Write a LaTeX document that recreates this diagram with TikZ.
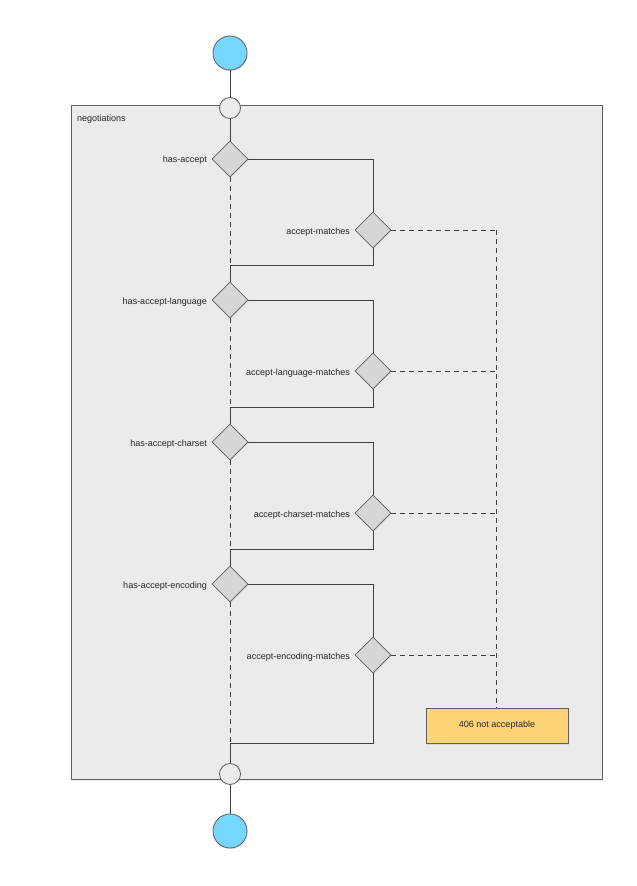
\documentclass[tikz,border=0pt]{standalone}
\usepackage{fontspec}
\setmainfont{Liberation Sans}
\usetikzlibrary{shapes.geometric,shadows}
\definecolor{edge}{HTML}{5E5E5E}
\definecolor{groupfill}{HTML}{EBEBEB}
\definecolor{decfill}{HTML}{D6D6D6}
\definecolor{termfill}{HTML}{76D6FF}
\definecolor{errfill}{HTML}{FFD479}
\tikzset{
  x=1pt, y=-1pt,
  every node/.style={font=\fontsize{9}{11}\selectfont, text=black!85},
  conn/.style={draw=black!75, line width=0.8pt},
  dashconn/.style={conn, dash pattern=on 5pt off 4pt},
  terminal/.style={circle, draw=edge, line width=0.8pt, fill=termfill, minimum size=34pt, inner sep=0pt,
    drop shadow={opacity=0.2, shadow xshift=0.6pt, shadow yshift=-1.2pt}},
  junction/.style={circle, draw=edge, line width=0.8pt, fill=groupfill, minimum size=21pt, inner sep=0pt},
  decision/.style={diamond, draw=edge, line width=0.8pt, fill=decfill, minimum width=36pt, minimum height=36pt, inner sep=0pt,
    drop shadow={opacity=0.2, shadow xshift=0.6pt, shadow yshift=-1.2pt}},
  declabel/.style={anchor=east, inner sep=0pt},
  groupbox/.style={rectangle, draw=edge, line width=0.8pt, fill=groupfill, anchor=north west, inner sep=0pt,
    drop shadow={opacity=0.15, shadow xshift=0.6pt, shadow yshift=-1.2pt}},
  errbox/.style={rectangle, draw=edge, line width=0.8pt, fill=errfill, minimum width=142pt, minimum height=35pt, inner sep=0pt,
    drop shadow={opacity=0.2, shadow xshift=0.6pt, shadow yshift=-1.5pt}},
}
\begin{document}
\begin{tikzpicture}
\useasboundingbox (0,0) rectangle (637,886);

% negotiation group
\node[groupbox, minimum width=531pt, minimum height=674pt] (group) at (71,105) {};
\node[anchor=west, inner sep=0pt] (grouplabel) at (77,119) {negotiations};

% entry and exit
\node[terminal] (start) at (230,53) {};
\node[junction] (in) at (230,108) {};
\node[junction] (out) at (230,774) {};
\node[terminal] (stop) at (230,831) {};

% header checks
\node[decision] (d1) at (230,159) {};
\node[decision] (m1) at (373,230) {};
\node[decision] (d2) at (230,300) {};
\node[decision] (m2) at (373,371) {};
\node[decision] (d3) at (230,442) {};
\node[decision] (m3) at (373,513) {};
\node[decision] (d4) at (230,584) {};
\node[decision] (m4) at (373,655) {};

\node[declabel] (l1) at (207,160.5) {has-accept};
\node[declabel] (lm1) at (350,232) {accept-matches};
\node[declabel] (l2) at (207,302) {has-accept-language};
\node[declabel] (lm2) at (350,373) {accept-language-matches};
\node[declabel] (l3) at (207,444) {has-accept-charset};
\node[declabel] (lm3) at (350,515) {accept-charset-matches};
\node[declabel] (l4) at (207,586) {has-accept-encoding};
\node[declabel] (lm4) at (350,657) {accept-encoding-matches};

% failure outcome
\node[errbox] (fail) at (497,725.5) {406 not acceptable};

% join points
\coordinate (j1) at (230,265);
\coordinate (j2) at (230,407);
\coordinate (j3) at (230,549);
\coordinate (j4) at (230,743);
\coordinate (r1) at (496.5,230);
\coordinate (r2) at (496.5,371);
\coordinate (r3) at (496.5,513);
\coordinate (r4) at (496.5,655);
\coordinate (rend) at (496.5,708);

% flow
\draw[conn] (start) -- (in);
\draw[conn] (in) -- (d1);
\draw[conn] (out) -- (stop);

\draw[conn] (d1.east) -| (m1.north);
\draw[dashconn] (d1.south) -- (j1);
\draw[conn] (m1.south) |- (j1);
\draw[conn] (j1) -- (d2.north);

\draw[conn] (d2.east) -| (m2.north);
\draw[dashconn] (d2.south) -- (j2);
\draw[conn] (m2.south) |- (j2);
\draw[conn] (j2) -- (d3.north);

\draw[conn] (d3.east) -| (m3.north);
\draw[dashconn] (d3.south) -- (j3);
\draw[conn] (m3.south) |- (j3);
\draw[conn] (j3) -- (d4.north);

\draw[conn] (d4.east) -| (m4.north);
\draw[dashconn] (d4.south) -- (j4);
\draw[conn] (m4.south) |- (j4);
\draw[conn] (j4) -- (out);

% mismatches lead to 406
\draw[dashconn] (m1.east) -- (r1);
\draw[dashconn] (m2.east) -- (r2);
\draw[dashconn] (m3.east) -- (r3);
\draw[dashconn] (m4.east) -- (r4);
\draw[dashconn] (r1) -- (rend);
\end{tikzpicture}
\end{document}
